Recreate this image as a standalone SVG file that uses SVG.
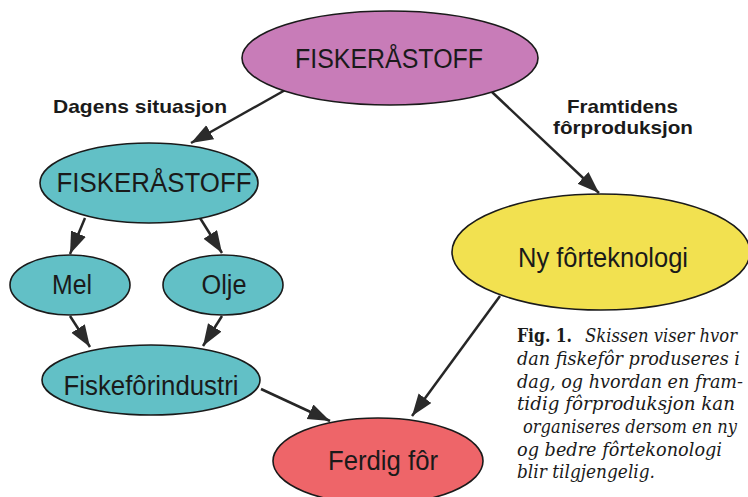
<svg xmlns="http://www.w3.org/2000/svg" width="748" height="497" viewBox="0 0 748 497">
<style>
.node ellipse{stroke:#1a1a1a;stroke-width:1.6}
.lbl{font-family:"Liberation Sans",Arial,sans-serif;font-size:27px;fill:#1a1a1a;text-anchor:middle}
.hd{font-family:"Liberation Sans",Arial,sans-serif;font-size:19px;font-weight:bold;fill:#1a1a1a}
.cap{font-family:"DejaVu Serif","Liberation Serif",serif;font-size:18px;font-style:italic;fill:#1a1a1a}
.capb{font-family:"DejaVu Serif","Liberation Serif",serif;font-size:19px;font-weight:bold;fill:#1a1a1a}
#edges line{stroke:#262626;stroke-width:2.5;marker-end:url(#ah)}
</style>
<defs>
<marker id="ah" markerUnits="userSpaceOnUse" markerWidth="24" markerHeight="18" refX="22" refY="8" orient="auto">
<path d="M0,0 L22,8 L0,16 Z" fill="#2b2b2b"/>
</marker>
</defs>
<rect width="748" height="497" fill="#ffffff"/>
<g id="edges">
<line x1="287" y1="89" x2="191" y2="143"/>
<line x1="492" y1="92" x2="599" y2="193"/>
<line x1="85" y1="218" x2="70" y2="254"/>
<line x1="200" y1="218" x2="222" y2="253"/>
<line x1="70" y1="316" x2="90" y2="347"/>
<line x1="222" y1="316" x2="203" y2="346"/>
<line x1="261" y1="389" x2="330" y2="421"/>
<line x1="500" y1="296" x2="412" y2="416"/>
</g>
<g id="n-top" class="node">
<ellipse cx="390" cy="58" rx="148" ry="47" fill="#c87cb8"/>
<text class="lbl" x="389" y="68" textLength="188" lengthAdjust="spacingAndGlyphs">FISKERÅSTOFF</text>
</g>
<g id="n-fisk" class="node">
<ellipse cx="149" cy="183" rx="109" ry="40" fill="#62c0c6"/>
<text class="lbl" x="154" y="192" textLength="195" lengthAdjust="spacingAndGlyphs">FISKERÅSTOFF</text>
</g>
<g id="n-mel" class="node">
<ellipse cx="70" cy="285" rx="60" ry="30" fill="#62c0c6"/>
<text class="lbl" x="72" y="294" textLength="40" lengthAdjust="spacingAndGlyphs">Mel</text>
</g>
<g id="n-olje" class="node">
<ellipse cx="223" cy="285" rx="60" ry="30" fill="#62c0c6"/>
<text class="lbl" x="224" y="294" textLength="45" lengthAdjust="spacingAndGlyphs">Olje</text>
</g>
<g id="n-ind" class="node">
<ellipse cx="151" cy="380" rx="109" ry="35" fill="#62c0c6"/>
<text class="lbl" x="151" y="395" textLength="175" lengthAdjust="spacingAndGlyphs">Fiskefôrindustri</text>
</g>
<g id="n-ny" class="node">
<ellipse cx="601" cy="252" rx="149" ry="58" fill="#f2e150"/>
<text class="lbl" x="603" y="267" textLength="170" lengthAdjust="spacingAndGlyphs">Ny fôrteknologi</text>
</g>
<g id="n-ferdig" class="node">
<ellipse cx="378" cy="461" rx="105" ry="43" fill="#ee6569"/>
<text class="lbl" x="383" y="470" textLength="110" lengthAdjust="spacingAndGlyphs">Ferdig fôr</text>
</g>
<g id="labels">
<text class="hd" x="53" y="113" textLength="174" lengthAdjust="spacingAndGlyphs">Dagens situasjon</text>
<text class="hd" x="567" y="113" textLength="111" lengthAdjust="spacingAndGlyphs">Framtidens</text>
<text class="hd" x="553" y="134" textLength="140" lengthAdjust="spacingAndGlyphs">fôrproduksjon</text>
</g>
<g id="caption">
<text class="capb" x="517" y="342" textLength="55" lengthAdjust="spacingAndGlyphs">Fig. 1.</text>
<text class="cap" x="585" y="342" textLength="152" lengthAdjust="spacingAndGlyphs">Skissen viser hvor</text>
<text class="cap" x="517" y="365" textLength="223" lengthAdjust="spacingAndGlyphs">dan fiskefôr produseres i</text>
<text class="cap" x="517" y="388" textLength="226" lengthAdjust="spacingAndGlyphs">dag, og hvordan en fram-</text>
<text class="cap" x="517" y="410" textLength="218" lengthAdjust="spacingAndGlyphs">tidig fôrproduksjon kan</text>
<text class="cap" x="523" y="433" textLength="214" lengthAdjust="spacingAndGlyphs">organiseres dersom en ny</text>
<text class="cap" x="517" y="456" textLength="205" lengthAdjust="spacingAndGlyphs">og bedre fôrtekonologi</text>
<text class="cap" x="517" y="478" textLength="138" lengthAdjust="spacingAndGlyphs">blir tilgjengelig.</text>
</g>
</svg>
